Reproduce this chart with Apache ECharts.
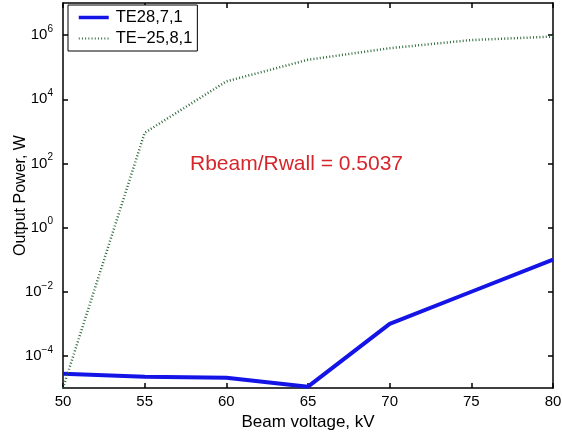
<!DOCTYPE html>
<html>
<head>
<meta charset="utf-8">
<script src="https://cdn.jsdelivr.net/npm/echarts@6/dist/echarts.min.js"></script>
<style>
  html, body { margin: 0; padding: 0; background: #fff; }
  #chart { width: 562px; height: 434px; }
</style>
</head>
<body>
<div id="chart"></div>
<script>
// Beam voltage (kV) and output power (W) for two modes
const voltages = [50, 55, 60, 65, 70, 75, 80];
const te28_7_1 = [2.8e-5, 2.25e-5, 2.1e-5, 1.1e-5, 1e-3, 1e-2, 1e-1];
const te25_8_1 = [1e-5, 9e2, 3.6e4, 1.7e5, 3.9e5, 7e5, 9e5];
const xTicks = [50, 55, 60, 65, 70, 75, 80];
const yTicks = [1e-4, 1e-2, 1e0, 1e2, 1e4, 1e6];
const seriesNames = ['TE28,7,1', 'TE\u221225,8,1'];
const annotation = 'Rbeam/Rwall = 0.5037';

const FONT = 'Liberation Sans, Arial, Helvetica, sans-serif';

function powLabel(v) {
  const e = Math.round(Math.log10(v));
  const s = e < 0 ? '\u2212' + Math.abs(e) : String(e);
  return '{b|10}{s|' + s + '}';
}

const axisLineStyle = { color: '#000', width: 1.5 };
const tickStyle = { color: '#000', width: 1.5 };

const chart = echarts.init(document.getElementById('chart'), null, { renderer: 'canvas' });
chart.setOption({
  backgroundColor: '#fff',
  animation: false,
  grid: { left: 63, right: 9, top: 3, bottom: 46, containLabel: false, outerBoundsMode: 'none' },
  legend: {
    left: 68, top: 5,
    orient: 'vertical',
    backgroundColor: '#fff',
    borderColor: '#000',
    borderWidth: 1,
    borderRadius: 0,
    padding: [4, 5, 4, 9],
    itemWidth: 30,
    itemHeight: 14,
    itemGap: 4,
    itemStyle: { opacity: 0 },
    textStyle: { fontFamily: FONT, fontSize: 16.5, color: '#000', padding: [0, 0, 0, 2] },
    data: [
      { name: seriesNames[0], lineStyle: { width: 3.5 } },
      { name: seriesNames[1] }
    ]
  },
  xAxis: [{
    type: 'value', min: 50, max: 80, interval: 5,
    name: 'Beam voltage, kV', nameLocation: 'middle', nameGap: 26, nameMoveOverlap: false,
    nameTextStyle: { fontFamily: FONT, fontSize: 17, color: '#000' },
    axisLine: { lineStyle: axisLineStyle },
    axisTick: { inside: true, length: 5, lineStyle: tickStyle },
    axisLabel: { fontFamily: FONT, fontSize: 15, color: '#000', margin: 6 },
    splitLine: { show: false }
  }, {
    type: 'value', min: 50, max: 80, interval: 5, position: 'top',
    axisLine: { lineStyle: axisLineStyle },
    axisTick: { inside: true, length: 5, lineStyle: tickStyle },
    axisLabel: { show: false },
    splitLine: { show: false }
  }],
  yAxis: [{
    type: 'log', logBase: 10, min: 1e-5, max: 1e7,
    name: 'Output Power, W', nameLocation: 'middle', nameGap: 34, nameMoveOverlap: false,
    nameTextStyle: { fontFamily: FONT, fontSize: 16, color: '#000' },
    axisLine: { lineStyle: axisLineStyle },
    axisTick: { inside: true, length: 5, customValues: yTicks, lineStyle: tickStyle },
    axisLabel: {
      customValues: yTicks, margin: 10,
      formatter: powLabel,
      rich: {
        b: { fontFamily: FONT, fontSize: 15, color: '#000' },
        s: { fontFamily: FONT, fontSize: 10, color: '#000', padding: [0, 0, 12, 0] }
      }
    },
    splitLine: { show: false }
  }, {
    type: 'log', logBase: 10, min: 1e-5, max: 1e7, position: 'right',
    axisLine: { lineStyle: axisLineStyle },
    axisTick: { inside: true, length: 5, customValues: yTicks, lineStyle: tickStyle },
    axisLabel: { show: false },
    splitLine: { show: false }
  }],
  series: [{
    name: seriesNames[0], type: 'line', symbol: 'none',
    xAxisIndex: 0, yAxisIndex: 0,
    data: voltages.map((v, i) => [v, te28_7_1[i]]),
    lineStyle: { color: '#1414e6', width: 4 },
    itemStyle: { color: '#1414e6' }
  }, {
    name: seriesNames[1], type: 'line', symbol: 'none',
    xAxisIndex: 0, yAxisIndex: 0,
    data: voltages.map((v, i) => [v, te25_8_1[i]]),
    lineStyle: { color: '#2f6b3c', width: 2.5, type: [1, 2.2] },
    itemStyle: { color: '#2f6b3c' }
  }],
  graphic: [{
    type: 'text', left: 190, top: 154,
    style: { text: annotation, fontFamily: FONT, fontSize: 21, fill: '#d7262b' }
  }]
});
</script>
</body>
</html>
